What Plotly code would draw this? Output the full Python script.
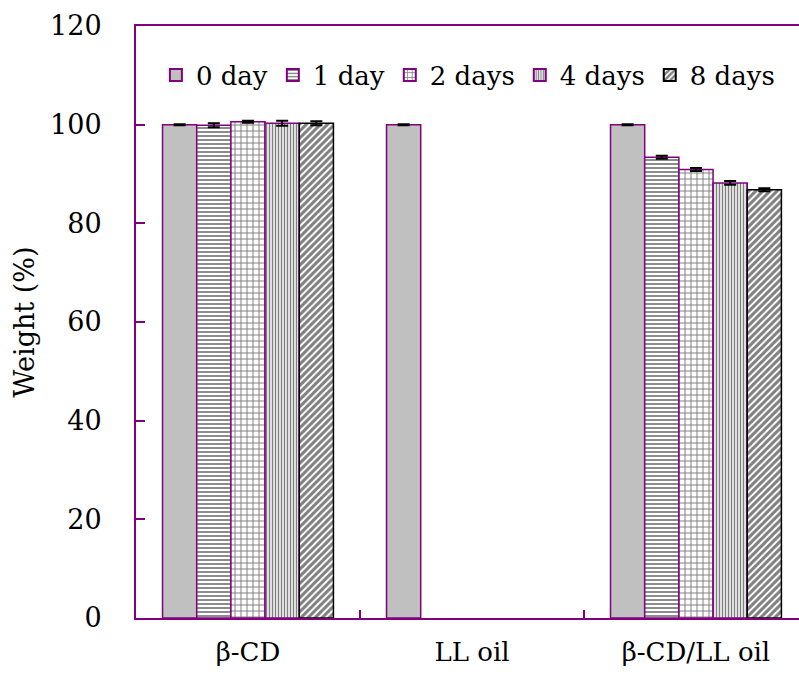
import plotly.graph_objects as go

categories = ["β-CD", "LL oil", "β-CD/LL oil"]
series_names = ["0 day", "1 day", "2 days", "4 days", "8 days"]
day0 = [100.0, 100.0, 100.0]
day1 = [99.9, None, 93.4]
day2 = [100.6, None, 90.9]
day4 = [100.3, None, 88.2]
day8 = [100.3, None, 86.8]
err0 = [0.1, 0.1, 0.1]
err1 = [0.4, 0.0, 0.3]
err2 = [0.2, 0.0, 0.3]
err4 = [0.5, 0.0, 0.4]
err8 = [0.4, 0.0, 0.3]

values = [day0, day1, day2, day4, day8]
errors = [err0, err1, err2, err4, err8]

PURPLE = "#800080"
FONT = "DejaVu Serif"

styles = [
    dict(color="#C0C0C0", pattern=dict(shape=""), line=PURPLE),
    dict(color="white", pattern=dict(shape="-", fgcolor="black", bgcolor="white", size=4, solidity=0.45), line=PURPLE),
    dict(color="white", pattern=dict(shape="+", fgcolor="black", bgcolor="white", size=6, solidity=0.3), line=PURPLE),
    dict(color="white", pattern=dict(shape="|", fgcolor="black", bgcolor="white", size=3, solidity=0.5), line=PURPLE),
    dict(color="white", pattern=dict(shape="/", fgcolor="black", bgcolor="white", size=5, solidity=0.6), line="black"),
]

fig = go.Figure()
for name, vals, errs, st in zip(series_names, values, errors, styles):
    fig.add_trace(go.Bar(
        x=categories, y=vals, name=name,
        marker=dict(color=st["color"], pattern=st["pattern"],
                    line=dict(color=st["line"], width=1.5)),
        error_y=dict(type="data", array=errs, visible=True, color="black",
                     thickness=2, width=6),
    ))

fig.update_layout(
    width=799, height=683,
    margin=dict(l=136, r=0, t=26, b=65),
    plot_bgcolor="white", paper_bgcolor="white",
    barmode="group", bargap=0.237, bargroupgap=0,
    font=dict(family=FONT, size=27, color="black"),
    showlegend=True,
    legend=dict(orientation="h", x=0.03, y=0.917, xanchor="left", yanchor="middle",
                bgcolor="rgba(0,0,0,0)", font=dict(family=FONT, size=26),
                itemsizing="constant", tracegroupgap=0),
    xaxis=dict(range=[-0.5, 2.46], showline=True, linecolor=PURPLE, linewidth=2,
               mirror=True, ticks="inside", tickson="boundaries", ticklen=8,
               tickcolor=PURPLE, tickwidth=2, showgrid=False,
               tickfont=dict(family=FONT, size=26), ticklabelstandoff=10),
    yaxis=dict(range=[0, 120], dtick=20, showline=True, linecolor=PURPLE, linewidth=2,
               ticks="inside", ticklen=9, tickcolor=PURPLE, tickwidth=2,
               showgrid=False, zeroline=False,
               tickfont=dict(family=FONT, size=27), ticklabelstandoff=27,
               title=dict(text="Weight (%)", font=dict(family=FONT, size=27), standoff=8)),
)

fig.write_html("out.html")
